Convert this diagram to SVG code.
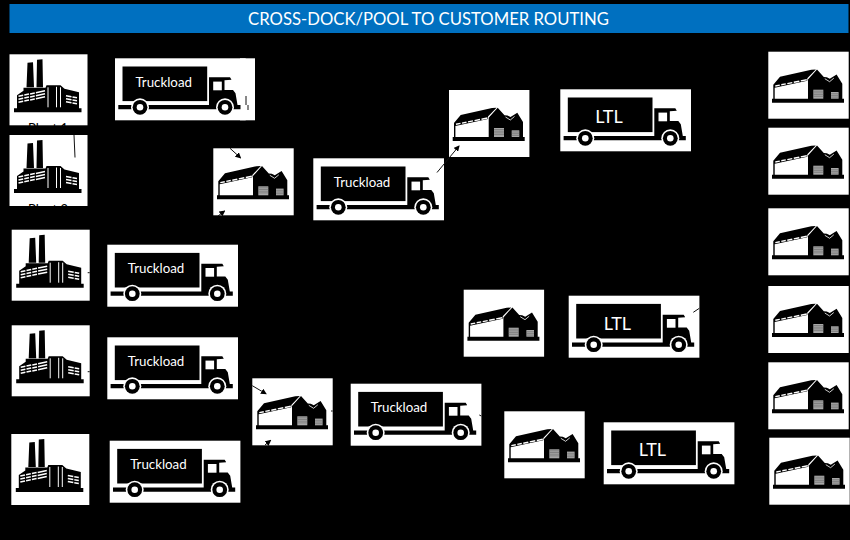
<svg xmlns="http://www.w3.org/2000/svg" width="850" height="540" viewBox="0 0 850 540">
<style>
.bg{fill:#000}
.box{fill:#fff}
.k{fill:#000}
.wline{fill:none;stroke:#fff}
.doorf{fill:#a8a8a8}
.door{fill:none;stroke:#666;stroke-width:.6}
.t{font-family:"Lato","Open Sans",sans-serif;fill:#fff;text-anchor:middle}
.tl{font-size:13.3px}
.ltl{font-size:18px}
.pl{font-family:"Lato","Open Sans",sans-serif;font-size:13px;fill:#000;text-anchor:middle}
.title{font-size:16.7px}
.c{fill:none;stroke:#111;stroke-width:1}
.ca{fill:none;stroke:#111;stroke-width:1;marker-end:url(#ah)}
</style>
<defs>
<marker id="ah" markerWidth="6" markerHeight="6" refX="5" refY="3" orient="auto" markerUnits="userSpaceOnUse"><path d="M0 0L6 3L0 6Z" fill="#000"/></marker>
<g id="factory">
<rect class="box" width="78" height="71"/>
<path class="k" d="M18 8.5L23.5 8L24.5 33L17 33ZM27.5 5.5L33 5L33.5 33L27 33ZM4.5 54H72V58H4.5ZM7.5 41L14 36.5V33.5L36 33.5L37 31H51L55 34.5L69.5 38V55H7.5Z"/>
<path class="wline" stroke-width="1" d="M38.5 33V53M47 32.5V53M51 33V53"/>
<path class="wline" stroke-width="1.5" d="M9 42L13.7 41M14.8 40.8L19.5 39.8M20.6 39.6L25.3 38.6M26.4 38.4L35.5 36.5M9 45L13.7 44M14.8 43.8L19.5 42.8M20.6 42.6L25.3 41.6M26.4 41.4L35.5 39.5M9 48L13.7 47M14.8 46.8L19.5 45.8M20.6 45.6L25.3 44.6M26.4 44.4L35.5 42.5M56.5 41.5L62 42.5M63 42.7L67.5 43.5M56.5 44.5L62 45.5M63 45.7L67.5 46.5M56.5 47.5L62 48.5M63 48.7L67.5 49.5"/>
</g>
<g id="truck">
<rect class="box" width="130.7" height="62"/>
<rect class="k" x="7.5" y="8.2" width="84.7" height="34.6"/>
<path class="k" d="M94 19H115L116.5 21.5L109.5 22V31.8H118L120.5 35L122.5 46.7H125.5V51H3.3V46.7H94Z"/>
<rect class="box" x="98.2" y="23.3" width="8.6" height="8.7"/>
<g id="wh"><circle class="box" cx="25" cy="49" r="9"/><circle class="k" cx="25" cy="49" r="7.4"/><circle class="box" cx="25" cy="49" r="3.3"/></g>
<use href="#wh" x="85"/>
</g>
<g id="warehouse">
<rect class="box" width="80.4" height="67"/>
<path class="k" d="M5.4 32.5L11.7 25L43 18L47.5 17.8L39 26.6V29L6.4 36V47H5V33ZM3.7 47H75.7V51H3.7ZM48.7 17.7L55.5 25.2L58.5 25.5L61.5 27L68.3 22.7L74 32V47H39.7V27.7Z"/>
<path class="wline" stroke-width=".8" d="M56.5 27L61.3 30L65.5 26.5"/>
<path class="wline" stroke-width="1.4" d="M7 34.3L11.5 33.4M13 33.1L17.5 32.2M19 31.9L24 30.9M25.5 30.6L31 29.5M32.5 29.2L38.5 28"/>
<rect class="doorf" x="45" y="38" width="10" height="9"/>
<rect class="doorf" x="62.7" y="40.3" width="7.6" height="6.7"/>
<path class="door" d="M45 39.5H55M45 41.2H55M45 42.9H55M45 44.6H55M62.7 42H70.3M62.7 43.7H70.3M62.7 45.4H70.3"/>
</g>
</defs>
<rect class="bg" width="850" height="540"/>
<g id="title-bar">
<rect x="9.5" y="4" width="839" height="29" fill="#0070c0"/>
<text class="t title" x="428.5" y="25">CROSS-DOCK/POOL TO CUSTOMER ROUTING</text>
</g>
<g id="plant1"><use href="#factory" x="9.5" y="54.3"/><text class="pl" x="48" y="133">Plant 1</text></g>
<g id="plant2"><use href="#factory" x="9.5" y="135"/><text class="pl" x="48" y="214">Plant 2</text></g>
<g id="plant3"><use href="#factory" x="11.7" y="229.7"/></g>
<g id="plant4"><use href="#factory" x="11.7" y="325.3"/></g>
<g id="plant5"><use href="#factory" x="11.3" y="434"/></g>
<g id="truck1"><rect class="box" x="240" y="58.3" width="15" height="62"/><use href="#truck" x="115" y="58.3"/><text class="t tl" x="163.7" y="86.7">Truckload</text></g>
<g id="truck2"><use href="#truck" x="313.3" y="158.3"/><text class="t tl" x="362" y="186.7">Truckload</text></g>
<g id="truck3"><use href="#truck" x="107.3" y="244.7"/><text class="t tl" x="156" y="273">Truckload</text></g>
<g id="truck4"><use href="#truck" x="107.3" y="337.3"/><text class="t tl" x="156" y="365.6">Truckload</text></g>
<g id="truck5"><use href="#truck" x="109.7" y="440.7"/><text class="t tl" x="158.4" y="469">Truckload</text></g>
<g id="truck6"><use href="#truck" x="350.7" y="383.7"/><text class="t tl" x="399" y="412">Truckload</text></g>
<g id="ltl1"><use href="#truck" x="560.3" y="89.3"/><text class="t ltl" x="609" y="123.3">LTL</text></g>
<g id="ltl2"><use href="#truck" x="568.7" y="295.7"/><text class="t ltl" x="617.4" y="329.7">LTL</text></g>
<g id="ltl3"><use href="#truck" x="603.7" y="422.3"/><text class="t ltl" x="652.4" y="456.3">LTL</text></g>
<g id="dock1"><use href="#warehouse" x="213.3" y="148.3"/></g>
<g id="dock2"><use href="#warehouse" x="449" y="90"/></g>
<g id="dock3"><use href="#warehouse" x="463.7" y="289.7"/></g>
<g id="dock4"><use href="#warehouse" x="252.3" y="378.3"/></g>
<g id="dock5"><use href="#warehouse" x="504.3" y="411.3"/></g>
<g id="customer1"><use href="#warehouse" x="768.3" y="51.7"/></g>
<g id="customer2"><use href="#warehouse" x="768.3" y="127.7"/></g>
<g id="customer3"><use href="#warehouse" x="768.3" y="208.3"/></g>
<g id="customer4"><use href="#warehouse" x="768.3" y="286"/></g>
<g id="customer5"><use href="#warehouse" x="768.3" y="362.3"/></g>
<g id="customer6"><use href="#warehouse" x="769.3" y="437.7"/></g>
<g id="connectors">
<path class="ca" d="M230 148.3L240.5 157.8"/>
<path class="c" d="M74 135L75 157.5"/>
<path class="c" d="M246 96V105"/>
<path class="c" stroke-width="2" d="M248 105V110"/>
<path class="ca" d="M218 216L224.5 211"/>
<path class="ca" d="M437 172.5L459 146"/>
<path class="c" d="M693.3 312.3L699.3 308.3"/>
<path class="c" d="M87.7 272.7H89.7"/>
<path class="c" d="M87.7 371.7H89.7"/>
<path class="ca" d="M252.3 385.7L266 393.8"/>
<path class="ca" d="M265 445L270.5 440.5"/>
<path class="c" d="M331 411H332.7"/>
<path class="c" d="M479.3 415L481.3 416"/>
</g>
</svg>
